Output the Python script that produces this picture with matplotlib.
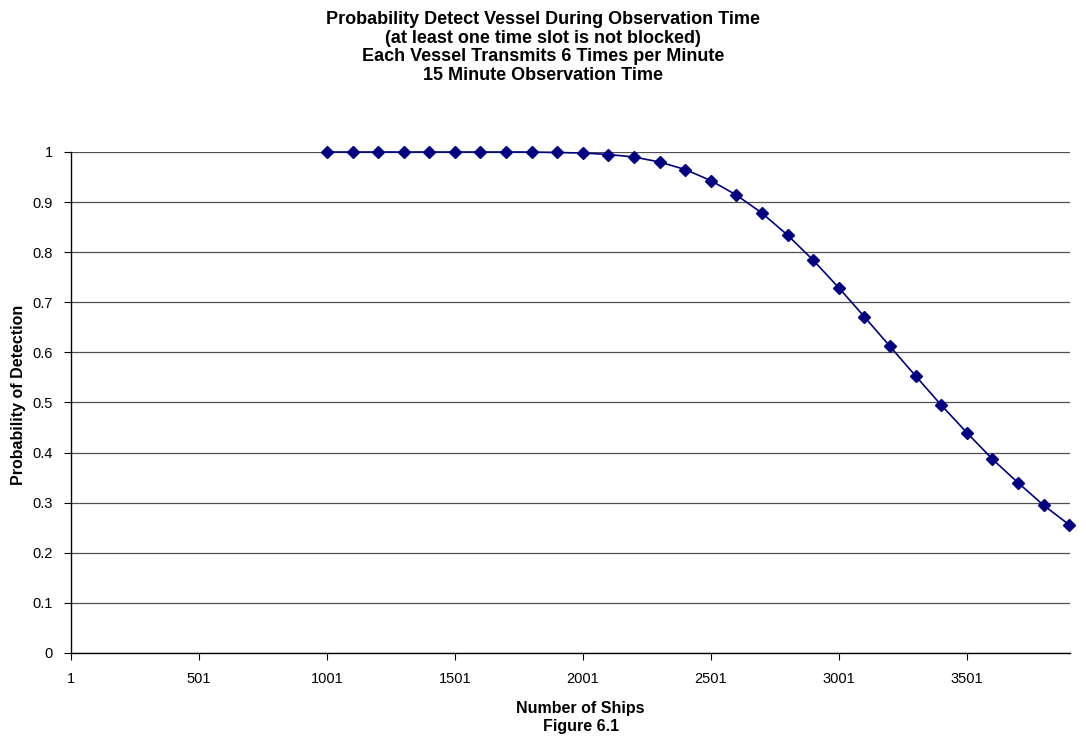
import numpy as np
import matplotlib.pyplot as plt

plt.rcParams['font.family'] = ['Liberation Sans', 'DejaVu Sans']

# number of ships (1001..3901 step 100) and probability of detection
ships = [1001, 1101, 1201, 1301, 1401, 1501, 1601, 1701, 1801, 1901,
         2001, 2101, 2201, 2301, 2401, 2501, 2601, 2701, 2801, 2901,
         3001, 3101, 3201, 3301, 3401, 3501, 3601, 3701, 3801, 3901]
prob = [1.0, 1.0, 1.0, 1.0, 1.0, 1.0, 1.0, 1.0, 1.0, 0.999,
        0.998, 0.995, 0.990, 0.980, 0.965, 0.943, 0.914, 0.878, 0.834, 0.784,
        0.729, 0.671, 0.612, 0.553, 0.495, 0.440, 0.387, 0.340, 0.295, 0.256]

xticks = [1, 501, 1001, 1501, 2001, 2501, 3001, 3501]
yticks = np.round(np.arange(0, 1.01, 0.1), 1)

fig = plt.figure(figsize=(10.86, 7.4), dpi=100)
ax = fig.add_axes([0.0654, 0.1176, 0.92, 0.677])

ax.plot(ships, prob, color='#000080', lw=1.2, marker='D', ms=6.5, zorder=3, clip_on=False)

ax.set_xlim(1, 3905)
ax.set_ylim(0, 1)
ax.set_xticks(xticks)
ax.set_xticklabels([str(t) for t in xticks])
ax.set_yticks(yticks)
ax.set_yticklabels(['0'] + ['%.1f' % v for v in yticks[1:-1]] + ['1'])
ax.tick_params(axis='x', direction='out', length=5, width=0.8, labelsize=10.5, pad=9)
ax.tick_params(axis='y', direction='out', length=5, width=0.8, labelsize=10.5, pad=8)

ax.yaxis.grid(True, color='#505050', lw=0.9)
ax.set_axisbelow(True)
for s in ['top', 'right']:
    ax.spines[s].set_visible(False)
ax.spines['left'].set_linewidth(1.0)
ax.spines['bottom'].set_linewidth(1.0)

ax.set_xlabel('Number of Ships\nFigure 6.1', fontsize=11.5, fontweight='bold',
              linespacing=1.25)
ax.xaxis.set_label_coords(0.51, -0.096, transform=ax.transAxes)
ax.xaxis.label.set_va('top')
ax.set_ylabel('Probability of Detection', fontsize=11.5, fontweight='bold')
ax.yaxis.set_label_coords(-0.045, 0.515)

fig.text(0.5, 0.985,
         'Probability Detect Vessel During Observation Time\n'
         '(at least one time slot is not blocked)\n'
         'Each Vessel Transmits 6 Times per Minute\n'
         '15 Minute Observation Time',
         ha='center', va='top', fontsize=13, fontweight='bold', linespacing=1.12)

fig.savefig('out.png', dpi=100)
